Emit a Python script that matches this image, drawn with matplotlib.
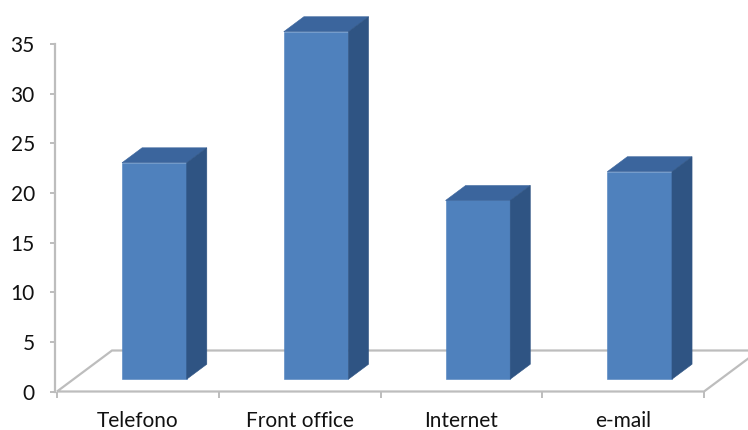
import matplotlib
matplotlib.use("Agg")
import matplotlib.pyplot as plt
from matplotlib.patches import Polygon

# Data
categories = ["Telefono", "Front office", "Internet", "e-mail"]
values = [21.8, 35.0, 18.0, 20.9]
y_ticks = [0, 5, 10, 15, 20, 25, 30, 35]

# Style
FRONT = "#4F81BD"
TOP = "#3B659D"
SIDE = "#2F5483"
LINE = "#BDBDBD"
FONT = ["Lato", "DejaVu Sans"]

W, H = 748, 430
fig = plt.figure(figsize=(W / 100, H / 100), dpi=100)
ax_left, ax_right = 57, 704
ax_bottom, ax_top = 391.5, 44
ax = fig.add_axes([ax_left / W, (H - ax_bottom) / H,
                   (ax_right - ax_left) / W, (ax_bottom - ax_top) / H])
ax.set_xlim(0, len(categories))
ax.set_ylim(0, 35)

# Oblique depth direction (full floor depth) in data units
px_x = (ax_right - ax_left) / len(categories)
px_y = (ax_bottom - ax_top) / 35
DX = 55 / px_x
DY = 41 / px_y


def proj(x, v, d):
    return (x + d * DX, v + d * DY)


# Floor
floor = Polygon([proj(0, 0, 0), proj(len(categories), 0, 0),
                 proj(len(categories), 0, 1), proj(0, 0, 1)],
                closed=True, facecolor="white", edgecolor=LINE,
                linewidth=1.6, clip_on=False, zorder=1)
ax.add_patch(floor)

# 3D columns
bar_w = 0.40
d0, d1 = 0.30, 0.665
for i, v in enumerate(values):
    xc = i + 0.5
    x0, x1 = xc - bar_w / 2, xc + bar_w / 2
    front = [proj(x0, 0, d0), proj(x1, 0, d0), proj(x1, v, d0), proj(x0, v, d0)]
    top = [proj(x0, v, d0), proj(x1, v, d0), proj(x1, v, d1), proj(x0, v, d1)]
    side = [proj(x1, 0, d0), proj(x1, 0, d1), proj(x1, v, d1), proj(x1, v, d0)]
    for pts, col in ((front, FRONT), (top, TOP), (side, SIDE)):
        ax.add_patch(Polygon(pts, closed=True, facecolor=col, edgecolor=col,
                             linewidth=0.4, clip_on=False, zorder=3))

# Axes styling
for s in ("top", "right"):
    ax.spines[s].set_visible(False)
ax.spines["left"].set_position(("outward", 1.5))
ax.spines["left"].set_color(LINE)
ax.spines["left"].set_linewidth(1.6)
ax.spines["bottom"].set_visible(False)

ax.set_yticks(y_ticks)
ax.set_yticklabels([str(t) for t in y_ticks])
ax.tick_params(axis="y", direction="out", length=3.5, width=1.4,
               color=LINE, pad=11, labelsize=15)

ax.set_xticks(range(len(categories) + 1))
ax.set_xticklabels([])
ax.set_xticks([i + 0.5 for i in range(len(categories))], minor=True)
ax.set_xticklabels(categories, minor=True)
ax.tick_params(axis="x", which="major", direction="out", length=4.5,
               width=1.4, color=LINE)
ax.tick_params(axis="x", which="minor", length=0, pad=14, labelsize=15)

for lbl in ax.get_yticklabels() + ax.get_xticklabels(minor=True):
    lbl.set_family(FONT)
    lbl.set_color("#111111")

ax.patch.set_alpha(0)
fig.savefig("out.png", dpi=100)
